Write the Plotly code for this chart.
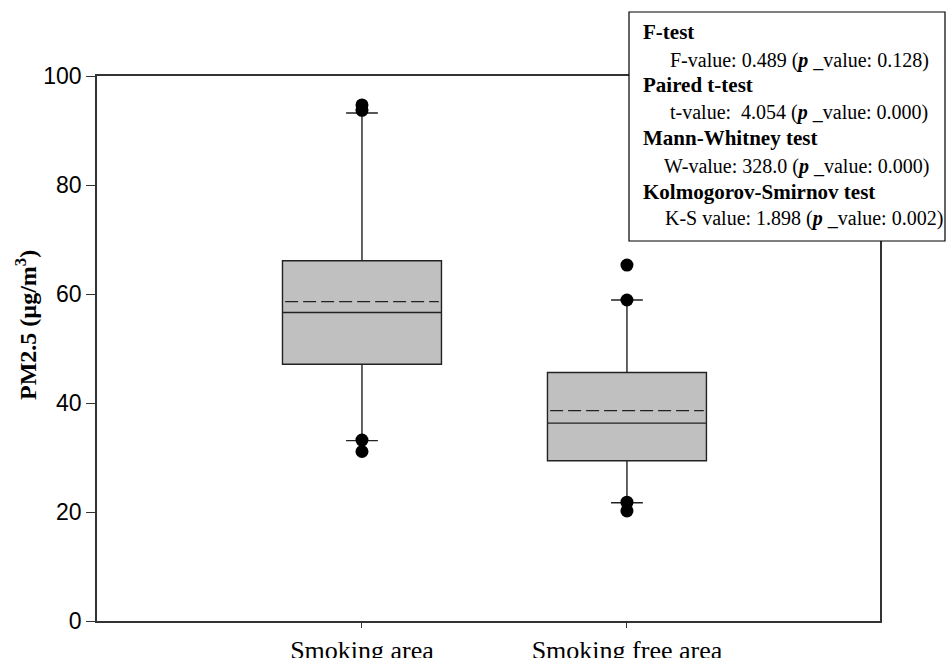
import plotly.graph_objects as go

categories = ["Smoking area", "Smoking free area"]
q1 = [47.1, 29.4]
median = [56.6, 36.3]
q3 = [66.1, 45.6]
mean = [58.6, 38.6]
lowerfence = [33.1, 21.7]
upperfence = [93.2, 58.9]
outlier_group = [0, 0, 0, 0, 1, 1, 1, 1]
outlier_val = [94.7, 93.7, 33.2, 31.1, 65.3, 58.9, 21.8, 20.2]

y_ticks = [0, 20, 40, 60, 80, 100]
y_title = "<b>PM2.5 (µg/m<sup>3</sup>)</b>"

stats_lines = [
    "<b>F-test</b>",
    "F-value: 0.489 (<b><i>p</i></b> _value: 0.128)",
    "<b>Paired t-test</b>",
    "t-value:  4.054 (<b><i>p</i></b> _value: 0.000)",
    "<b>Mann-Whitney test</b>",
    "W-value: 328.0 (<b><i>p</i></b> _value: 0.000)",
    "<b>Kolmogorov-Smirnov test</b>",
    "K-S value: 1.898 (<b><i>p</i></b> _value: 0.002)",
]

W, H = 948, 658
pw, ph = 783, 545
L, T = 97, 76
R, B = W - L - pw, H - T - ph
BOXW = 0.6

def px(x):
    return (x - L) / pw

def py(y):
    return (T + ph - y) / ph

fig = go.Figure()
for i, c in enumerate(categories):
    fig.add_trace(go.Box(
        x=[i], q1=[q1[i]], median=[median[i]], q3=[q3[i]],
        lowerfence=[lowerfence[i]], upperfence=[upperfence[i]],
        boxpoints=False, width=BOXW, whiskerwidth=0.2,
        fillcolor="#c0c0c0", line=dict(color="#222222", width=1.4),
        showlegend=False, hoverinfo="skip",
    ))
    fig.add_trace(go.Scatter(
        x=[i - BOXW / 2 + 0.01, i + BOXW / 2 - 0.01], y=[mean[i], mean[i]],
        mode="lines", line=dict(color="#222222", width=1.4, dash="13px,5px"),
        showlegend=False, hoverinfo="skip",
    ))

fig.add_trace(go.Scatter(
    x=outlier_group, y=outlier_val, mode="markers",
    marker=dict(color="black", size=13), showlegend=False, hoverinfo="skip",
))

fig.update_layout(
    width=W, height=H,
    margin=dict(l=L, r=R, t=T, b=B),
    paper_bgcolor="white", plot_bgcolor="white",
    font=dict(family="Liberation Serif", color="black"),
)
fig.update_xaxes(
    range=[-1.0, 1.955], tickvals=list(range(len(categories))), ticktext=categories,
    showline=True, linecolor="#333333", linewidth=1.5, mirror=True,
    ticks="outside", ticklen=5, tickcolor="#333333",
    tickfont=dict(family="Liberation Serif", size=26),
    showgrid=False, zeroline=False, automargin=False,
)
fig.update_yaxes(
    range=[0, 100], tickvals=y_ticks,
    showline=True, linecolor="#333333", linewidth=1.5, mirror=True,
    ticks="outside", ticklen=9, tickcolor="#333333",
    tickfont=dict(family="Liberation Sans", size=23),
    showgrid=False, zeroline=False, automargin=False,
)

fig.add_annotation(text=y_title, xref="paper", yref="paper",
                   x=px(26), y=py(325), xanchor="center", yanchor="middle",
                   textangle=-90, showarrow=False,
                   font=dict(family="Liberation Serif", size=24, color="black"))

# stats box
fig.add_shape(type="rect", xref="paper", yref="paper",
              x0=px(629), x1=px(945), y0=py(241), y1=py(12),
              line=dict(color="black", width=1.2), fillcolor="white", layer="above")
line_y = [31.7, 60, 85, 113, 138, 167, 192, 218]
indent_x = [641, 668, 641, 668, 641, 662, 641, 663]
for k, (txt, yy, xx) in enumerate(zip(stats_lines, line_y, indent_x)):
    fig.add_annotation(text=txt, xref="paper", yref="paper",
                       x=px(xx), y=py(yy), xanchor="left", yanchor="middle",
                       showarrow=False,
                       font=dict(family="Liberation Serif", size=21 if k % 2 == 0 else 20, color="black"))

fig.write_html(
    "out.html",
    config={"displayModeBar": False},
    post_script="document.body.style.margin='0';document.body.style.overflow='hidden';",
)
